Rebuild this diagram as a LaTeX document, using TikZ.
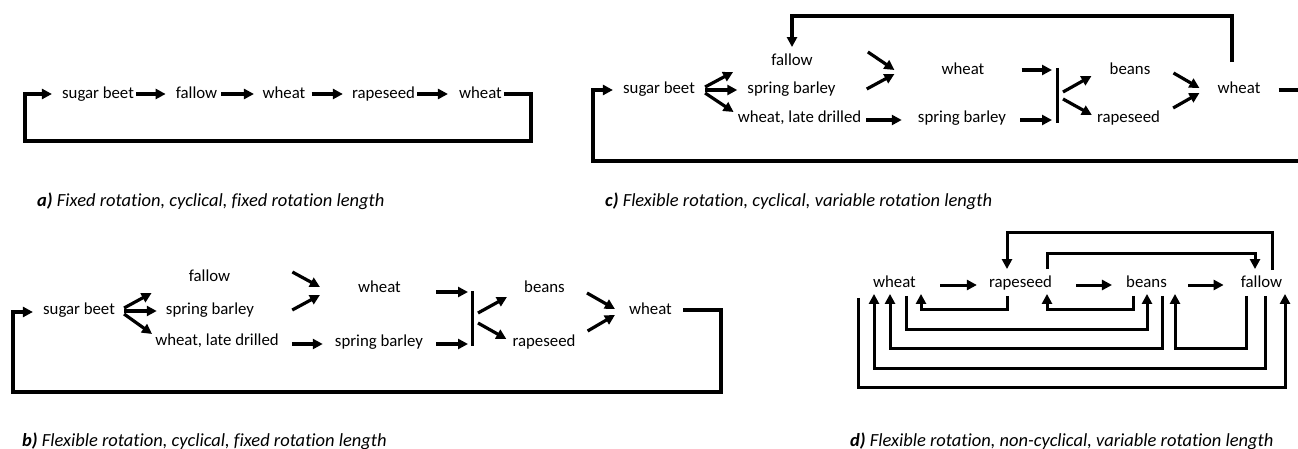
\documentclass[tikz,border=0pt]{standalone}
\usepackage{fontspec}
\setmainfont{Carlito}[Ligatures={NoCommon}]
\usetikzlibrary{arrows.meta,calc}

\begin{document}
\begin{tikzpicture}[x=1pt,y=-1pt,
  lbl/.style={font=\fontsize{16.8}{18}\selectfont, inner sep=0pt, text height=12pt, text depth=3.5pt},
  capt/.style={font=\fontsize{18.5}{20}\selectfont\itshape, inner sep=0pt, anchor=west},
  flow/.style={line width=3.2pt, -{Triangle[length=10pt,width=10pt]}},
  flowd/.style={line width=3pt, -{Triangle[length=10pt,width=10pt]}},
  barline/.style={line width=3pt}]

\path[use as bounding box, fill=white] (0,0) rectangle (1298,449);

% ---------- a) fixed rotation ----------
\node[lbl] (a1) at (98,94) {sugar beet};
\node[lbl] (a2) at (196.5,94) {fallow};
\node[lbl] (a3) at (284,94) {wheat};
\node[lbl] (a4) at (383.5,94) {rapeseed};
\node[lbl] (a5) at (480.5,94) {wheat};
\draw[flow] ($(a1.east)+(2,0)$) -- ($(a2.west)+(-10,0)$);
\draw[flow] ($(a2.east)+(4,0)$) -- ($(a3.west)+(-8.5,0)$);
\draw[flow] ($(a3.east)+(6,0)$) -- ($(a4.west)+(-9,0)$);
\draw[flow] ($(a4.east)+(2,0)$) -- ($(a5.west)+(-11,0)$);
\draw[flow] ($(a5.east)+(2,0)$) -| (531,141) -| (25,94) -- ($(a1.west)+(-10,0)$);
\node[capt] (capa) at (37,201) {\textbf{a)} Fixed rotation, cyclical, fixed rotation length};

% ---------- b) flexible rotation, fixed length ----------
\node[lbl] (b1) at (79,310) {sugar beet};
\node[lbl] (b2) at (209.5,277) {fallow};
\node[lbl] (b3) at (210,310) {spring barley};
\node[lbl] (b4) at (217,341) {wheat, late drilled};
\node[lbl] (b5) at (379.5,288) {wheat};
\node[lbl] (b6) at (379,342) {spring barley};
\node[lbl] (b7) at (544.5,288) {beans};
\node[lbl] (b8) at (544,342) {rapeseed};
\node[lbl] (b9) at (650.5,310) {wheat};
\coordinate (bbar1) at (472,291);
\coordinate (bbar2) at (472,346);
\draw[flow] ($(b1.east)+(9,-2)$) -- ($(b2.west)+(-37,16)$);
\draw[flow] ($(b1.east)+(9,1)$) -- ($(b3.west)+(-9,1)$);
\draw[flow] ($(b1.east)+(9,4)$) -- ($(b4.west)+(-3,-7)$);
\draw[flow] ($(b4.east)+(13,3)$) -- ($(b6.west)+(-12,2)$);
\draw[flow] ($(b2.east)+(62,-5)$) -- ($(b5.west)+(-38,-1)$);
\draw[flow] ($(b3.east)+(38,0)$) -- ($(b5.west)+(-38,7)$);
\draw[barline] (bbar1) -- (bbar2);
\draw[flow] ($(b5.east)+(35,4)$) -- ($(bbar1)+(-4,1)$);
\draw[flow] ($(b6.east)+(13,2)$) -- ($(bbar2)+(-4,-2)$);
\draw[flow] ($(bbar1)+(6,22)$) -- ($(b7.west)+(-17,9)$);
\draw[flow] ($(bbar2)+(6,-23)$) -- ($(b8.west)+(-6,-3)$);
\draw[flow] ($(b7.east)+(22,5)$) -- ($(b9.west)+(-14,-1)$);
\draw[flow] ($(b8.east)+(12,-11)$) -- ($(b9.west)+(-14,5)$);
\draw[flow] ($(b9.east)+(11,0)$) -| (721,392) -| (13,312) -- ($(b1.west)+(-10,2)$);
\node[capt] (capb) at (22,441) {\textbf{b)} Flexible rotation, cyclical, fixed rotation length};

% ---------- c) flexible rotation, variable length ----------
\node[lbl] (c1) at (659,89) {sugar beet};
\node[lbl] (c2) at (792,61) {fallow};
\node[lbl] (c3) at (791.5,89) {spring barley};
\node[lbl] (c4) at (799.5,118) {wheat, late drilled};
\node[lbl] (c5) at (963,70) {wheat};
\node[lbl] (c6) at (962,118) {spring barley};
\node[lbl] (c7) at (1130,70) {beans};
\node[lbl] (c8) at (1128.5,118) {rapeseed};
\node[lbl] (c9) at (1239,89) {wheat};
\coordinate (cbar1) at (1057,68);
\coordinate (cbar2) at (1057,123);
\draw[flow] ($(c1.east)+(10,-2)$) -- ($(c2.west)+(-38,11)$);
\draw[flow] ($(c1.east)+(10,1)$) -- ($(c3.west)+(-10,1)$);
\draw[flow] ($(c1.east)+(10,4)$) -- ($(c4.west)+(-4,-6)$);
\draw[flow] ($(c4.east)+(5,2)$) -- ($(c6.west)+(-16,2)$);
\draw[flow] ($(c2.east)+(55,-9)$) -- ($(c5.west)+(-47,0)$);
\draw[flow] ($(c3.east)+(31,0)$) -- ($(c5.west)+(-47,4)$);
\draw[barline] (cbar1) -- (cbar2);
\draw[flow] ($(c5.east)+(37,0)$) -- ($(cbar1)+(-5,2)$);
\draw[flow] ($(c6.east)+(14,2)$) -- ($(cbar2)+(-5,-3)$);
\draw[flow] ($(cbar1)+(6,24)$) -- ($(c7.west)+(-18,6)$);
\draw[flow] ($(cbar2)+(6,-24)$) -- ($(c8.west)+(-5,-3)$);
\draw[flow] ($(c7.east)+(23,3)$) -- ($(c9.west)+(-18,-1)$);
\draw[flow] ($(c8.east)+(13,-10)$) -- ($(c9.west)+(-18,4)$);
\draw[flow] ($(c9.north)+(-7,-19)$) -- ++(0,-46) -| ($(c2.north)+(0,-6)$);
\draw[flow] ($(c9.east)+(18,1)$) -| (1303,161) -| (593,90) -- ($(c1.west)+(-10,1)$);
\node[capt] (capc) at (605,201) {\textbf{c)} Flexible rotation, cyclical, variable rotation length};

% ---------- d) flexible rotation, non-cyclical ----------
\node[lbl] (d1) at (894.5,283) {wheat};
\node[lbl] (d2) at (1020.5,283) {rapeseed};
\node[lbl] (d3) at (1146.5,283) {beans};
\node[lbl] (d4) at (1261.5,283) {fallow};
\draw[flowd] ($(d1.east)+(24,2)$) -- ($(d2.west)+(-12,2)$);
\draw[flowd] ($(d2.east)+(24,2)$) -- ($(d3.west)+(-14,2)$);
\draw[flowd] ($(d3.east)+(21,2)$) -- ($(d4.west)+(-17,2)$);
% loops above the row
\draw[flowd] ($(d4.north)+(10.5,-5)$) -- ++(0,-38) -| ($(d2.north)+(-13.5,-6)$);
\draw[flowd] ($(d2.north)+(26.5,-6)$) -- ++(0,-16) -| ($(d4.north)+(-6.5,-6)$);
% loops below the row
\draw[flowd] ($(d2.south)+(-13.5,5)$) -- ++(0,14) -| ($(d1.south)+(26.5,3)$);
\draw[flowd] ($(d3.south)+(-13.5,5)$) -- ++(0,14) -| ($(d2.south)+(26.5,3)$);
\draw[flowd] ($(d1.south)+(11.5,5)$) -- ++(0,34) -| ($(d3.south)+(0.5,3)$);
\draw[flowd] ($(d3.south)+(15.5,5)$) -- ++(0,53) -| ($(d1.south)+(-4.5,3)$);
\draw[flowd] ($(d4.south)+(-15.5,5)$) -- ++(0,53) -| ($(d3.south)+(28.5,3)$);
\draw[flowd] ($(d4.south)+(3.5,5)$) -- ++(0,73) -| ($(d1.south)+(-20.5,3)$);
\draw[flowd] ($(d1.south)+(-36.5,7)$) -- ++(0,90) -| ($(d4.south)+(23.5,3)$);
\node[capt] (capd) at (850,441) {\textbf{d)} Flexible rotation, non-cyclical, variable rotation length};

\end{tikzpicture}
\end{document}
